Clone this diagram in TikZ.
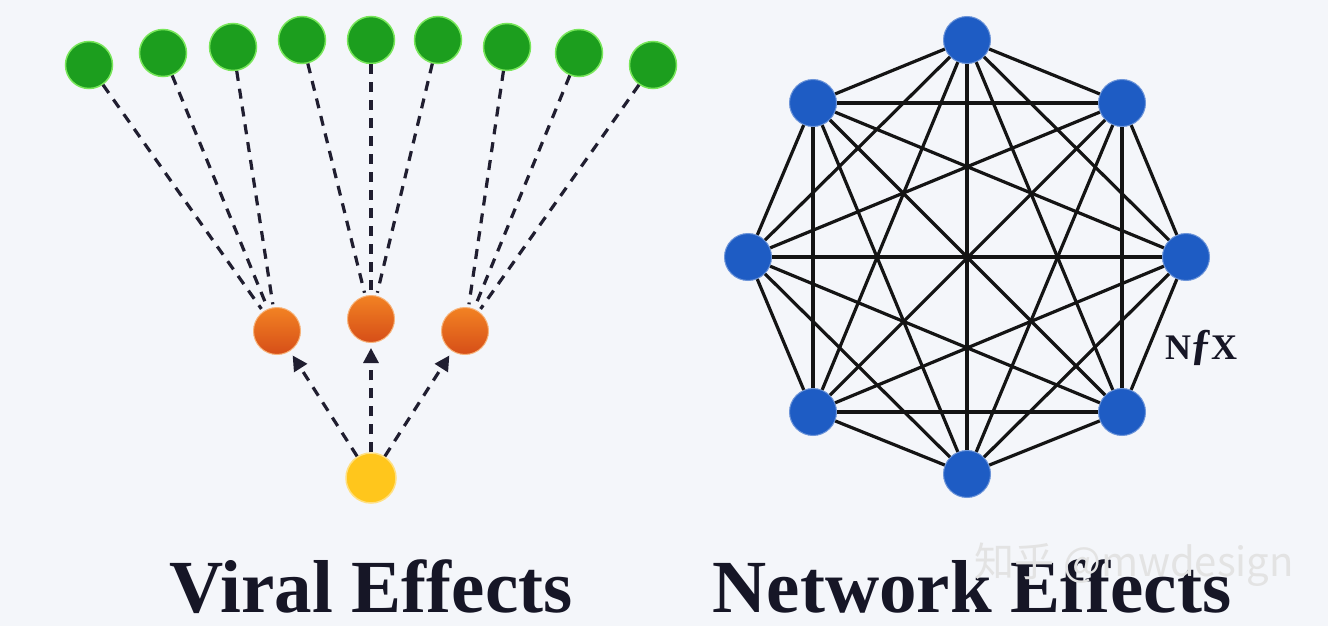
\documentclass[tikz,border=0pt]{standalone}
\usepackage{fontspec}
\setmainfont{Liberation Serif}
\newfontfamily\cjkfont{Noto Sans CJK SC}
\usetikzlibrary{arrows.meta}
\definecolor{fondo}{RGB}{244,246,250}
\definecolor{verde}{RGB}{28,158,30}
\definecolor{verdeclaro}{RGB}{120,230,90}
\definecolor{naranja}{RGB}{242,130,35}
\definecolor{naranjaosc}{RGB}{214,78,24}
\definecolor{amarillo}{RGB}{255,198,28}
\definecolor{azul}{RGB}{30,92,196}
\definecolor{linea}{RGB}{32,30,48}
\definecolor{tinta}{RGB}{22,22,38}

\begin{document}
\begin{tikzpicture}[
  x=1pt, y=-1pt,
  gnode/.style={circle, fill=verde, draw=verdeclaro, line width=1.5pt, inner sep=0pt, minimum size=47pt},
  onode/.style={circle, top color=naranja, bottom color=naranjaosc, draw=naranja!60!white, line width=1pt, inner sep=0pt, minimum size=47pt},
  ynode/.style={circle, fill=amarillo, draw=amarillo!55!white, line width=1.5pt, inner sep=0pt, minimum size=50pt},
  bnode/.style={circle, fill=azul, draw=azul!65!white, line width=1pt, inner sep=0pt, minimum size=47pt},
  dline/.style={line width=3.2pt, draw=linea, dash pattern=on 10pt off 8pt, shorten >=3pt},
  darrow/.style={line width=3.2pt, draw=linea, dash pattern=on 10pt off 8pt, -{Triangle[length=15pt,width=15pt]}, shorten >=5pt},
  edge/.style={line width=3.2pt, draw=black!92},
  title/.style={font=\fontsize{75}{80}\selectfont\bfseries, text=tinta, anchor=base, inner sep=0pt}
]
  \useasboundingbox (0,0) rectangle (1328,626);
  \fill[fondo] (0,0) rectangle (1328,626);

  % Efecto viral: nodos verdes
  \node[gnode] (g1) at (89,65) {};
  \node[gnode] (g2) at (163,53) {};
  \node[gnode] (g3) at (233,47) {};
  \node[gnode] (g4) at (302,40) {};
  \node[gnode] (g5) at (371,40) {};
  \node[gnode] (g6) at (438,40) {};
  \node[gnode] (g7) at (507,47) {};
  \node[gnode] (g8) at (579,53) {};
  \node[gnode] (g9) at (653,65) {};

  % Nodos naranjas y amarillo
  \node[onode] (o1) at (277,331) {};
  \node[onode] (o2) at (371,319) {};
  \node[onode] (o3) at (465,331) {};
  \node[ynode] (y) at (371,478) {};

  % Lineas discontinuas
  \foreach \g/\o in {1/1,2/1,3/1,4/2,5/2,6/2,7/3,8/3,9/3}
    \draw[dline] (g\g) -- (o\o);
  \foreach \o in {1,2,3}
    \draw[darrow] (y) -- (o\o);

  % Efecto de red: 8 nodos azules
  \node[bnode] (b1) at (967,40) {};   % superior
  \node[bnode] (b2) at (1122,103) {}; % superior der
  \node[bnode] (b3) at (1186,257) {}; % der
  \node[bnode] (b4) at (1122,412) {}; % inferior der
  \node[bnode] (b5) at (967,474) {};  % inferior
  \node[bnode] (b6) at (813,412) {};  % inferior izq
  \node[bnode] (b7) at (748,257) {};  % izq
  \node[bnode] (b8) at (813,103) {};  % superior izq

  % Aristas (grafo completo)
  \foreach \i in {1,...,8}
    \foreach \j in {1,...,8}
      {\ifnum\i<\j \draw[edge] (b\i) -- (b\j);\fi}

  \node[font=\fontsize{36}{40}\selectfont\bfseries, text=tinta] (nfx) at (1201,348) {N\kern-1pt{\fontsize{44}{44}\selectfont ƒ}\kern-1ptX};

  % Titulos
  \node[title] (viral) at (371,612) {Viral Effects};
  \node[title] (network) at (972,612) {Network Effects};

  % Marca de agua
  \node[font=\cjkfont\fontsize{40}{44}\selectfont, text=white!78!gray, anchor=base] (marca) at (1134,576) {知乎 @mwdesign};
\end{tikzpicture}
\end{document}
